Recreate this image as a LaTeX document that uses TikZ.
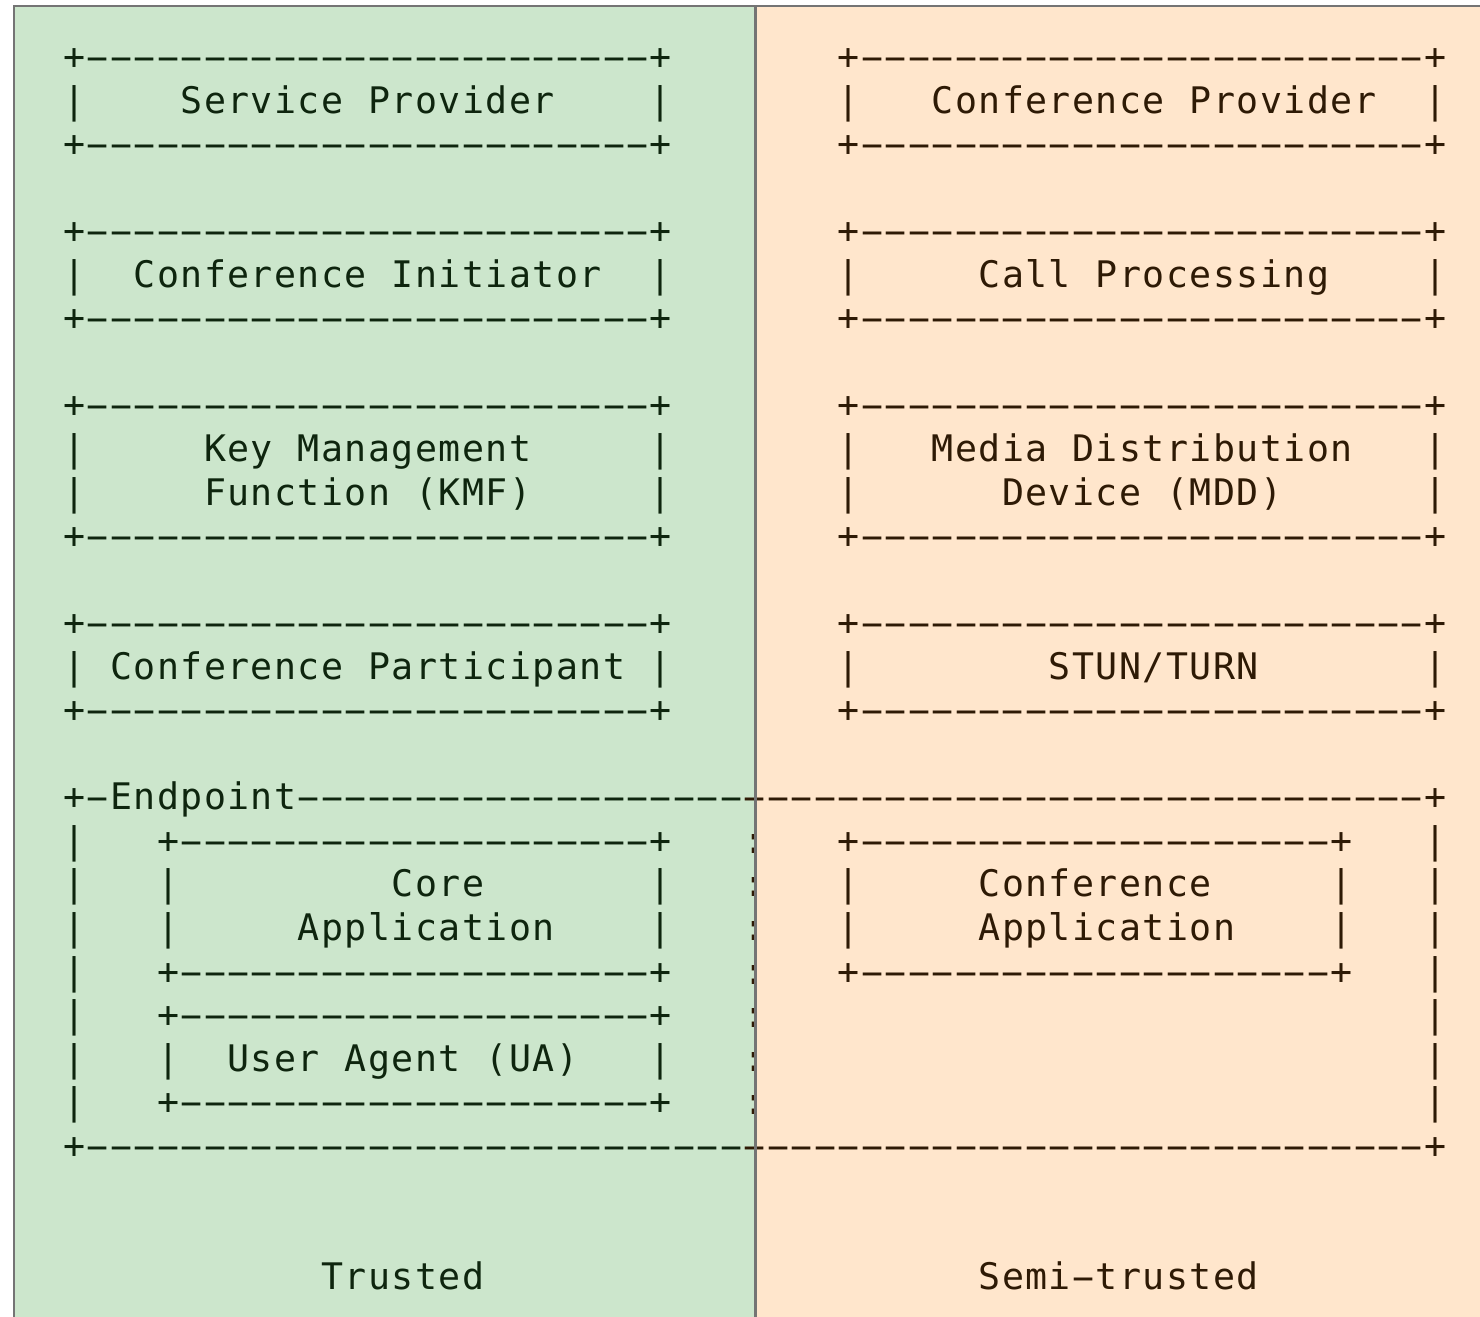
\documentclass[tikz,border=0pt]{standalone}
\usepackage{fontspec}
\setmonofont{DejaVu Sans Mono}
\usepackage{graphicx}
\usepackage{xcolor}
\definecolor{bgL}{HTML}{CCE6CC}
\definecolor{bgR}{HTML}{FFE6CC}
\definecolor{framegray}{HTML}{747474}
\definecolor{txtL}{HTML}{0E250E}
\definecolor{txtR}{HTML}{2E1A05}
\newlength\cw \setlength\cw{11.735pt}
\ExplSyntaxOn
\int_new:N \l_asc_col_int
\tl_new:N \l_asc_row_tl
\cs_new:Npn \rpt #1#2 { \prg_replicate:nn {#1} {#2} }
\NewDocumentCommand\asciirow{m}
 {
  \tl_set:Nx \l_asc_row_tl {#1}
  \int_zero:N \l_asc_col_int
  \tl_map_inline:Nn \l_asc_row_tl
   {
    \makebox[\cw][c]
     {
      \int_compare:nNnTF {\l_asc_col_int} < {29}
       { \color{txtL} } { \color{txtR} }
      \str_case:nnF {##1}
       {
        {@} { }
        {-} { \scalebox{2.0}[1]{-} }
       }
       { ##1 }
     }
    \int_incr:N \l_asc_col_int
   }
 }
\ExplSyntaxOff
\begin{document}
\begin{tikzpicture}[x=0.5pt,y=-0.5pt,
  row/.style={anchor=base west, inner sep=0pt, outer sep=0pt,
    font=\ttfamily\fontsize{18.3pt}{20pt}\selectfont}]
\useasboundingbox (0,0) rectangle (1480,1317);
\fill[white] (0,0) rectangle (1480,1317);
\fill[bgL] (14,6) rectangle (755,1317);
\fill[bgR] (755,6) rectangle (1480,1317);
\draw[framegray, line width=1.1pt] (14,1317) -- (14,6) -- (1480,6);
% rows of the ASCII art
\node[row] (r0)  at (62.5,69.5)   {\asciirow{+\rpt{24}{-}+\rpt{7}{@}+\rpt{24}{-}+}};
\node[row] (r1)  at (62.5,113.05) {\asciirow{|@@@@Service@Provider@@@@|\rpt{7}{@}|@@@Conference@Provider@@|}};
\node[row] (r2)  at (62.5,156.6)  {\asciirow{+\rpt{24}{-}+\rpt{7}{@}+\rpt{24}{-}+}};
\node[row] (r4)  at (62.5,243.7)  {\asciirow{+\rpt{24}{-}+\rpt{7}{@}+\rpt{24}{-}+}};
\node[row] (r5)  at (62.5,287.25) {\asciirow{|@@Conference@Initiator@@|\rpt{7}{@}|\rpt{5}{@}Call@Processing\rpt{4}{@}|}};
\node[row] (r6)  at (62.5,330.8)  {\asciirow{+\rpt{24}{-}+\rpt{7}{@}+\rpt{24}{-}+}};
\node[row] (r8)  at (62.5,417.9)  {\asciirow{+\rpt{24}{-}+\rpt{7}{@}+\rpt{24}{-}+}};
\node[row] (r9)  at (62.5,461.45) {\asciirow{|\rpt{5}{@}Key@Management\rpt{5}{@}|\rpt{7}{@}|@@@Media@Distribution@@@|}};
\node[row] (r10) at (62.5,505.0)  {\asciirow{|\rpt{5}{@}Function@(KMF)\rpt{5}{@}|\rpt{7}{@}|\rpt{6}{@}Device@(MDD)\rpt{6}{@}|}};
\node[row] (r11) at (62.5,548.55) {\asciirow{+\rpt{24}{-}+\rpt{7}{@}+\rpt{24}{-}+}};
\node[row] (r13) at (62.5,635.65) {\asciirow{+\rpt{24}{-}+\rpt{7}{@}+\rpt{24}{-}+}};
\node[row] (r14) at (62.5,679.2)  {\asciirow{|@Conference@Participant@|\rpt{7}{@}|\rpt{8}{@}STUN/TURN\rpt{7}{@}|}};
\node[row] (r15) at (62.5,722.75) {\asciirow{+\rpt{24}{-}+\rpt{7}{@}+\rpt{24}{-}+}};
\node[row] (r17) at (62.5,809.85) {\asciirow{+-Endpoint\rpt{48}{-}+}};
\node[row] (r18) at (62.5,853.4)  {\asciirow{|@@@+\rpt{20}{-}+@@@:@@@+\rpt{20}{-}+@@@|}};
\node[row] (r19) at (62.5,896.95) {\asciirow{|@@@|\rpt{9}{@}Core\rpt{7}{@}|@@@:@@@|\rpt{5}{@}Conference\rpt{5}{@}|@@@|}};
\node[row] (r20) at (62.5,940.5)  {\asciirow{|@@@|\rpt{5}{@}Application\rpt{4}{@}|@@@:@@@|\rpt{5}{@}Application\rpt{4}{@}|@@@|}};
\node[row] (r21) at (62.5,984.05) {\asciirow{|@@@+\rpt{20}{-}+@@@:@@@+\rpt{20}{-}+@@@|}};
\node[row] (r22) at (62.5,1027.6) {\asciirow{|@@@+\rpt{20}{-}+@@@:\rpt{28}{@}|}};
\node[row] (r23) at (62.5,1071.15){\asciirow{|@@@|@@User@Agent@(UA)@@@|@@@:\rpt{28}{@}|}};
\node[row] (r24) at (62.5,1114.7) {\asciirow{|@@@+\rpt{20}{-}+@@@:\rpt{28}{@}|}};
\node[row] (r25) at (62.5,1158.25){\asciirow{+\rpt{57}{-}+}};
\node[row] (r28) at (62.5,1289.0) {\asciirow{\rpt{11}{@}Trusted\rpt{21}{@}Semi-trusted}};
% divider between trusted and semi-trusted zones
\draw[framegray, line width=1.5pt] (755,6) -- (755,1317);
\end{tikzpicture}
\end{document}
